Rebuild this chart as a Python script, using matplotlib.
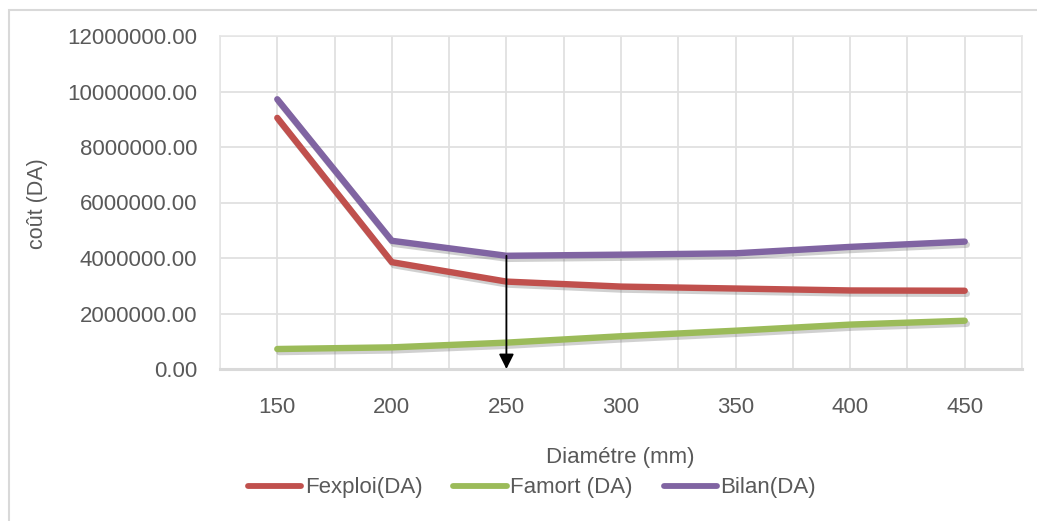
import matplotlib.pyplot as plt
import matplotlib.patheffects as pe
from matplotlib.patches import Rectangle
import numpy as np

# cost vs pipe diameter
diametres = [150, 200, 250, 300, 350, 400, 450]
fexploi = [9.05e6, 3.85e6, 3.15e6, 2.97e6, 2.90e6, 2.83e6, 2.82e6]
famort = [0.72e6, 0.78e6, 0.95e6, 1.18e6, 1.38e6, 1.60e6, 1.74e6]
bilan = [9.72e6, 4.62e6, 4.08e6, 4.12e6, 4.17e6, 4.40e6, 4.59e6]
optimum = 250

grey = '#595959'
gridc = '#d9d9d9'
plt.rcParams['font.family'] = ['Liberation Sans', 'DejaVu Sans']

fig = plt.figure(figsize=(10.37, 5.21), dpi=100)
ax = fig.add_axes([220/1037, 1-369/521, 802/1037, 333/521])

x = np.arange(len(diametres))
shadow = [pe.SimpleLineShadow(offset=(1.5, -2.2), shadow_color='#666666', alpha=0.3), pe.Normal()]
series = [(fexploi, '#C0504D', 'Fexploi(DA)'),
          (famort, '#9BBB59', 'Famort (DA)'),
          (bilan, '#8064A2', 'Bilan(DA)')]
for vals, col, lab in series:
    ax.plot(x, vals, color=col, lw=4.6, solid_capstyle='round', label=lab,
            path_effects=shadow, zorder=3)

# arrow down from the minimum of the total cost
i_opt = diametres.index(optimum)
ax.annotate('', xy=(i_opt, 0), xytext=(i_opt, bilan[i_opt]),
            arrowprops=dict(arrowstyle='-|>,head_length=0.9,head_width=0.45',
                            color='black', lw=1.3, shrinkA=0, shrinkB=0),
            zorder=4, annotation_clip=False)

ax.set_xlim(-0.5, len(diametres) - 0.5)
ax.set_ylim(0, 12e6)
ax.set_xticks(x)
ax.set_xticklabels([str(d) for d in diametres])
ax.set_xticks(np.arange(-0.5, len(diametres), 1.0), minor=True)
ax.set_yticks(np.arange(0, 12e6 + 1, 2e6))
ax.set_yticklabels(['%.2f' % v for v in np.arange(0, 12e6 + 1, 2e6)])
ax.tick_params(which='both', length=0, colors=grey, labelsize=16)
ax.tick_params(axis='x', pad=20)
ax.tick_params(axis='y', pad=16.5)
ax.grid(True, which='both', color='#e0e0e0', lw=1.3, zorder=0)
ax.set_axisbelow(True)
for s in ['left', 'right', 'top']:
    ax.spines[s].set_color('#e6e6e6')
    ax.spines[s].set_linewidth(1.2)
ax.spines['bottom'].set_color(gridc)
ax.spines['bottom'].set_linewidth(2.2)

fig.text(620/1037, 1-458/521, 'Diamétre (mm)', ha='center', va='center',
         fontsize=16, color=grey)
fig.text(38/1037, 1-204/521, 'coût (DA)', ha='center', va='center',
         rotation=90, fontsize=15.5, color=grey)

leg = fig.legend(loc='center', bbox_to_anchor=(532/1037, 1-488/521), ncol=3,
                 frameon=False, fontsize=16, handlelength=2.4,
                 handletextpad=0.15, columnspacing=1.4)
for t in leg.get_texts():
    t.set_color(grey)
for h in leg.get_lines():
    h.set_path_effects([])
    h.set_linewidth(4.2)

# outer chart frame
fig.patches.append(Rectangle((9/1037, -0.1), 1.2, 1 - 10/521 + 0.1,
                             transform=fig.transFigure, fill=False,
                             edgecolor=gridc, lw=1.5))

fig.savefig('out.png', dpi=100)
